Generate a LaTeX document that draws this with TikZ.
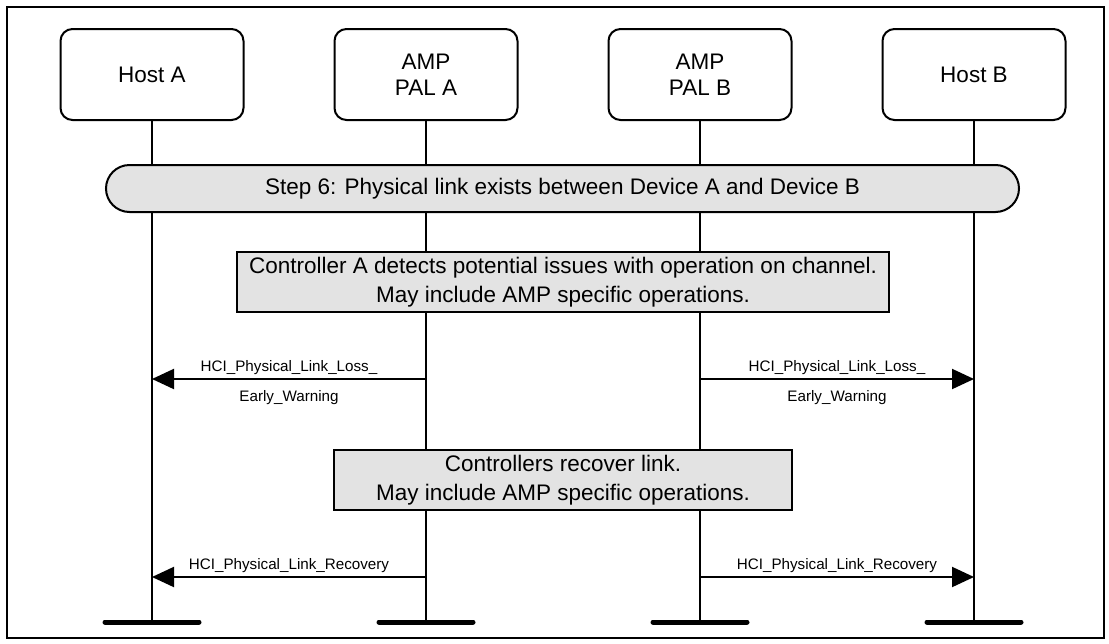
\documentclass[tikz,border=0pt]{standalone}
\usepackage{fontspec}
\setmainfont{Liberation Sans}
\usetikzlibrary{arrows.meta}
\tikzset{
  entity/.style={draw,line width=2pt,rounded corners=12pt,minimum width=183pt,minimum height=91pt,align=center,font=\fontsize{22.5}{26}\selectfont},
  note/.style={draw,line width=2pt,fill=black!11,align=center,inner sep=0pt,font=\fontsize{22.5}{29}\selectfont},
  msg/.style={line width=2pt,-{Triangle[length=22pt,width=20pt]}},
  lbl/.style={font=\fontsize{15.2}{18}\selectfont}
}
\begin{document}
\begin{tikzpicture}[x=1pt,y=-1pt]
\useasboundingbox(0,0)rectangle(1109,643);
\draw[line width=2pt](7,7)rectangle(1104,638);
% entities and their lifelines
\foreach \n/\x/\t in {hA/152/Host A,pA/426/AMP\\PAL A,pB/700/AMP\\PAL B,hB/974/Host B}{
  \node[entity](\n)at(\x,74.5){\t};
  \coordinate(\n e)at(\x,622);\coordinate(\n1)at(\x,379);\coordinate(\n2)at(\x,577);
  \draw[line width=2pt](\n.south)--(\n e);
  \draw[line width=5pt,line cap=round]([xshift=-47pt]\n e)--([xshift=47pt]\n e);
}
\node[note,rounded corners=23.5pt,minimum width=913pt,minimum height=47pt](step)at(562.5,188.5){Step 6: Physical link exists between Device A and Device B};
\node[note,minimum width=652pt,minimum height=60pt](detect)at(563,282){Controller A detects potential issues with operation on channel.\\May include AMP specific operations.};
\node[note,minimum width=458pt,minimum height=60pt](recover)at(563,480){Controllers recover link.\\May include AMP specific operations.};
% messages
\draw[msg](pA1)--node[lbl,above](w1){HCI\_Physical\_Link\_Loss\_}node[lbl,below=7pt](w2){Early\_Warning}(hA1);
\draw[msg](pB1)--node[lbl,above](w3){HCI\_Physical\_Link\_Loss\_}node[lbl,below=7pt](w4){Early\_Warning}(hB1);
\draw[msg](pA2)--node[lbl,above](r1){HCI\_Physical\_Link\_Recovery}(hA2);
\draw[msg](pB2)--node[lbl,above](r2){HCI\_Physical\_Link\_Recovery}(hB2);
\end{tikzpicture}
\end{document}
